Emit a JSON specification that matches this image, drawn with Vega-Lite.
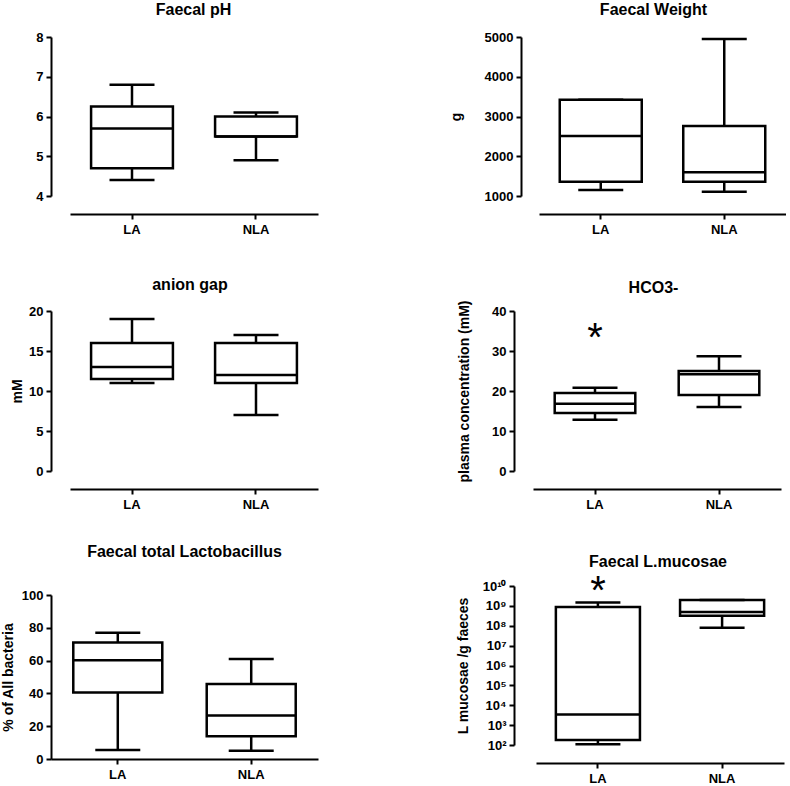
{
  "$schema": "https://vega.github.io/schema/vega-lite/v6.json",
  "background": "white",
  "padding": {"left": 1, "top": 2, "right": 0, "bottom": 0},
  "datasets": {
    "boxes": [
      {"panel": "pH", "group": "LA", "min": 4.4, "q1": 4.7, "median": 5.7, "q3": 6.25, "max": 6.8},
      {"panel": "pH", "group": "NLA", "min": 4.9, "q1": 5.5, "median": 5.5, "q3": 6.0, "max": 6.1},
      {"panel": "weight", "group": "LA", "min": 1150, "q1": 1360, "median": 2510, "q3": 3420, "max": 3420},
      {"panel": "weight", "group": "NLA", "min": 1110, "q1": 1360, "median": 1600, "q3": 2760, "max": 4950},
      {"panel": "anion", "group": "LA", "min": 11, "q1": 11.5, "median": 13, "q3": 16, "max": 19},
      {"panel": "anion", "group": "NLA", "min": 7, "q1": 11, "median": 12, "q3": 16, "max": 17},
      {"panel": "hco3", "group": "LA", "min": 12.8, "q1": 14.5, "median": 16.8, "q3": 19.5, "max": 20.8},
      {"panel": "hco3", "group": "NLA", "min": 16, "q1": 19, "median": 24.2, "q3": 25, "max": 28.7},
      {"panel": "lacto", "group": "LA", "min": 5.5, "q1": 40.6, "median": 60.2, "q3": 71, "max": 77},
      {"panel": "lacto", "group": "NLA", "min": 5, "q1": 13.8, "median": 26.6, "q3": 45.8, "max": 61},
      {"panel": "muc", "group": "LA", "min": 110, "q1": 180, "median": 3400, "q3": 870000000, "max": 1500000000},
      {"panel": "muc", "group": "NLA", "min": 79000000, "q1": 320000000, "median": 490000000, "q3": 2000000000, "max": 2000000000}
    ],
    "stars": [
      {"panel": "hco3", "group": "LA", "value": 35, "label": "*"},
      {"panel": "muc", "group": "LA", "value": 12000000000, "label": "*"}
    ]
  },
  "config": {
    "view": {"stroke": null},
    "axis": {
      "labelFont": "Liberation Sans", "labelFontWeight": "bold", "labelFontSize": 13, "labelColor": "black",
      "titleFont": "Liberation Sans", "titleFontWeight": "bold", "titleFontSize": 14, "titleColor": "black",
      "domainColor": "black", "domainWidth": 2, "tickColor": "black", "tickWidth": 2, "tickSize": 5,
      "grid": false, "labelPadding": 3, "labelFlush": false, "labelOverlap": false
    },
    "axisX": {"labelAngle": 0, "labelPadding": 4},
    "title": {"font": "Liberation Sans", "fontSize": 16, "fontWeight": "bold", "color": "black", "anchor": "middle", "frame": "group"}
  },
  "columns": 2,
  "spacing": {"row": 115, "column": 203},
  "bounds": "flush",
  "concat": [
    {
      "width": 267, "height": 159,
      "title": {"text": "Faecal pH", "dx": 9, "offset": 13},
      "data": {"name": "boxes"},
      "transform": [{"filter": "datum.panel === 'pH'"}],
      "encoding": {"x": {"field": "group", "type": "nominal", "sort": ["LA", "NLA"], "title": null, "scale": {"range": [19, 267], "paddingInner": 0.34, "paddingOuter": 0.17}, "axis": {"offset": 18}}},
      "layer": [
        {"mark": {"type": "rule", "color": "black", "strokeWidth": 2.5}, "encoding": {"y": {"field": "min", "type": "quantitative", "title": null, "scale": {"domain": [4, 8], "nice": false, "zero": false}, "axis": {"values": [4, 5, 6, 7, 8], "format": "d", "labelOverlap": false}}, "y2": {"field": "max"}}},
        {"mark": {"type": "bar", "fill": "white", "stroke": "black", "strokeWidth": 2.5}, "encoding": {"y": {"field": "q1", "type": "quantitative", "title": null, "axis": {"values": [4, 5, 6, 7, 8], "format": "d", "labelOverlap": false}}, "y2": {"field": "q3"}}},
        {"mark": {"type": "bar", "fill": "white", "fillOpacity": 0, "stroke": "black", "strokeWidth": 2.5}, "encoding": {"y": {"field": "median", "type": "quantitative", "title": null, "axis": {"values": [4, 5, 6, 7, 8], "format": "d", "labelOverlap": false}}, "y2": {"field": "median"}}},
        {"mark": {"type": "tick", "color": "black", "opacity": 1, "thickness": 2.5, "size": 45}, "encoding": {"y": {"field": "min", "type": "quantitative", "title": null, "axis": {"values": [4, 5, 6, 7, 8], "format": "d", "labelOverlap": false}}}},
        {"mark": {"type": "tick", "color": "black", "opacity": 1, "thickness": 2.5, "size": 45}, "encoding": {"y": {"field": "max", "type": "quantitative", "title": null, "axis": {"values": [4, 5, 6, 7, 8], "format": "d", "labelOverlap": false}}}}
      ]
    },
    {
      "width": 265, "height": 159,
      "title": {"text": "Faecal Weight", "offset": 13},
      "data": {"name": "boxes"},
      "transform": [{"filter": "datum.panel === 'weight'"}],
      "encoding": {"x": {"field": "group", "type": "nominal", "sort": ["LA", "NLA"], "title": null, "scale": {"range": [18, 265], "paddingInner": 0.336, "paddingOuter": 0.168}, "axis": {"offset": 18}}},
      "layer": [
        {"mark": {"type": "rule", "color": "black", "strokeWidth": 2.5}, "encoding": {"y": {"field": "min", "type": "quantitative", "title": "g", "scale": {"domain": [1000, 5000], "nice": false, "zero": false}, "axis": {"values": [1000, 2000, 3000, 4000, 5000], "format": "d", "labelOverlap": false, "titlePadding": 21}}, "y2": {"field": "max"}}},
        {"mark": {"type": "bar", "fill": "white", "stroke": "black", "strokeWidth": 2.5}, "encoding": {"y": {"field": "q1", "type": "quantitative", "title": "g", "axis": {"values": [1000, 2000, 3000, 4000, 5000], "format": "d", "labelOverlap": false, "titlePadding": 21}}, "y2": {"field": "q3"}}},
        {"mark": {"type": "bar", "fill": "white", "fillOpacity": 0, "stroke": "black", "strokeWidth": 2.5}, "encoding": {"y": {"field": "median", "type": "quantitative", "title": "g", "axis": {"values": [1000, 2000, 3000, 4000, 5000], "format": "d", "labelOverlap": false, "titlePadding": 21}}, "y2": {"field": "median"}}},
        {"mark": {"type": "tick", "color": "black", "opacity": 1, "thickness": 2.5, "size": 45}, "encoding": {"y": {"field": "min", "type": "quantitative", "title": "g", "axis": {"values": [1000, 2000, 3000, 4000, 5000], "format": "d", "labelOverlap": false, "titlePadding": 21}}}},
        {"mark": {"type": "tick", "color": "black", "opacity": 1, "thickness": 2.5, "size": 45}, "encoding": {"y": {"field": "max", "type": "quantitative", "title": "g", "axis": {"values": [1000, 2000, 3000, 4000, 5000], "format": "d", "labelOverlap": false, "titlePadding": 21}}}}
      ]
    },
    {
      "width": 267, "height": 160,
      "title": {"text": "anion gap", "dx": 5.5, "offset": 12},
      "data": {"name": "boxes"},
      "transform": [{"filter": "datum.panel === 'anion'"}],
      "encoding": {"x": {"field": "group", "type": "nominal", "sort": ["LA", "NLA"], "title": null, "scale": {"range": [19, 267], "paddingInner": 0.34, "paddingOuter": 0.17}, "axis": {"offset": 18}}},
      "layer": [
        {"mark": {"type": "rule", "color": "black", "strokeWidth": 2.5}, "encoding": {"y": {"field": "min", "type": "quantitative", "title": "mM", "scale": {"domain": [0, 20], "nice": false}, "axis": {"values": [0, 5, 10, 15, 20], "format": "d", "labelOverlap": false, "titlePadding": 4.5}}, "y2": {"field": "max"}}},
        {"mark": {"type": "bar", "fill": "white", "stroke": "black", "strokeWidth": 2.5}, "encoding": {"y": {"field": "q1", "type": "quantitative", "title": "mM", "axis": {"values": [0, 5, 10, 15, 20], "format": "d", "labelOverlap": false, "titlePadding": 4.5}}, "y2": {"field": "q3"}}},
        {"mark": {"type": "bar", "fill": "white", "fillOpacity": 0, "stroke": "black", "strokeWidth": 2.5}, "encoding": {"y": {"field": "median", "type": "quantitative", "title": "mM", "axis": {"values": [0, 5, 10, 15, 20], "format": "d", "labelOverlap": false, "titlePadding": 4.5}}, "y2": {"field": "median"}}},
        {"mark": {"type": "tick", "color": "black", "opacity": 1, "thickness": 2.5, "size": 45}, "encoding": {"y": {"field": "min", "type": "quantitative", "title": "mM", "axis": {"values": [0, 5, 10, 15, 20], "format": "d", "labelOverlap": false, "titlePadding": 4.5}}}},
        {"mark": {"type": "tick", "color": "black", "opacity": 1, "thickness": 2.5, "size": 45}, "encoding": {"y": {"field": "max", "type": "quantitative", "title": "mM", "axis": {"values": [0, 5, 10, 15, 20], "format": "d", "labelOverlap": false, "titlePadding": 4.5}}}}
      ]
    },
    {
      "width": 265, "height": 160,
      "title": {"text": "HCO3-", "offset": 4},
      "encoding": {"x": {"field": "group", "type": "nominal", "sort": ["LA", "NLA"], "title": null, "scale": {"range": [12, 260], "paddingInner": 0.35, "paddingOuter": 0.175}, "axis": {"offset": 18}}},
      "layer": [
        {"data": {"name": "boxes"}, "transform": [{"filter": "datum.panel === 'hco3'"}], "mark": {"type": "rule", "color": "black", "strokeWidth": 2.5}, "encoding": {"y": {"field": "min", "type": "quantitative", "title": "plasma concentration (mM)", "scale": {"domain": [0, 40], "nice": false}, "axis": {"values": [0, 10, 20, 30, 40], "format": "d", "labelOverlap": false, "titlePadding": 20, "offset": 7}}, "y2": {"field": "max"}}},
        {"data": {"name": "boxes"}, "transform": [{"filter": "datum.panel === 'hco3'"}], "mark": {"type": "bar", "fill": "white", "stroke": "black", "strokeWidth": 2.5}, "encoding": {"y": {"field": "q1", "type": "quantitative", "title": "plasma concentration (mM)", "axis": {"values": [0, 10, 20, 30, 40], "format": "d", "labelOverlap": false, "titlePadding": 20, "offset": 7}}, "y2": {"field": "q3"}}},
        {"data": {"name": "boxes"}, "transform": [{"filter": "datum.panel === 'hco3'"}], "mark": {"type": "bar", "fill": "white", "fillOpacity": 0, "stroke": "black", "strokeWidth": 2.5}, "encoding": {"y": {"field": "median", "type": "quantitative", "title": "plasma concentration (mM)", "axis": {"values": [0, 10, 20, 30, 40], "format": "d", "labelOverlap": false, "titlePadding": 20, "offset": 7}}, "y2": {"field": "median"}}},
        {"data": {"name": "boxes"}, "transform": [{"filter": "datum.panel === 'hco3'"}], "mark": {"type": "tick", "color": "black", "opacity": 1, "thickness": 2.5, "size": 45}, "encoding": {"y": {"field": "min", "type": "quantitative", "title": "plasma concentration (mM)", "axis": {"values": [0, 10, 20, 30, 40], "format": "d", "labelOverlap": false, "titlePadding": 20, "offset": 7}}}},
        {"data": {"name": "boxes"}, "transform": [{"filter": "datum.panel === 'hco3'"}], "mark": {"type": "tick", "color": "black", "opacity": 1, "thickness": 2.5, "size": 45}, "encoding": {"y": {"field": "max", "type": "quantitative", "title": "plasma concentration (mM)", "axis": {"values": [0, 10, 20, 30, 40], "format": "d", "labelOverlap": false, "titlePadding": 20, "offset": 7}}}},
        {"data": {"name": "stars"}, "transform": [{"filter": "datum.panel === 'hco3'"}], "mark": {"type": "text", "font": "Liberation Sans", "fontSize": 40, "color": "black", "baseline": "middle", "dy": 8}, "encoding": {"y": {"field": "value", "type": "quantitative", "title": "plasma concentration (mM)", "axis": {"values": [0, 10, 20, 30, 40], "format": "d", "labelOverlap": false, "titlePadding": 20, "offset": 7}}, "text": {"field": "label"}}}
      ]
    },
    {
      "width": 267, "height": 173,
      "title": {"text": "Faecal total Lactobacillus", "offset": 26},
      "data": {"name": "boxes"},
      "transform": [{"filter": "datum.panel === 'lacto'"}],
      "encoding": {"x": {"field": "group", "type": "nominal", "sort": ["LA", "NLA"], "title": null, "scale": {"paddingInner": 0.333, "paddingOuter": 0.167}, "axis": {"offset": 0}}},
      "layer": [
        {"mark": {"type": "rule", "color": "black", "strokeWidth": 2.5}, "encoding": {"y": {"field": "min", "type": "quantitative", "title": "% of All bacteria", "scale": {"domain": [0, 100], "nice": false, "range": [173, 9]}, "axis": {"values": [0, 20, 40, 60, 80, 100], "format": "d", "labelOverlap": false, "titlePadding": 6}}, "y2": {"field": "max"}}},
        {"mark": {"type": "bar", "fill": "white", "stroke": "black", "strokeWidth": 2.5}, "encoding": {"y": {"field": "q1", "type": "quantitative", "title": "% of All bacteria", "axis": {"values": [0, 20, 40, 60, 80, 100], "format": "d", "labelOverlap": false, "titlePadding": 6}}, "y2": {"field": "q3"}}},
        {"mark": {"type": "bar", "fill": "white", "fillOpacity": 0, "stroke": "black", "strokeWidth": 2.5}, "encoding": {"y": {"field": "median", "type": "quantitative", "title": "% of All bacteria", "axis": {"values": [0, 20, 40, 60, 80, 100], "format": "d", "labelOverlap": false, "titlePadding": 6}}, "y2": {"field": "median"}}},
        {"mark": {"type": "tick", "color": "black", "opacity": 1, "thickness": 2.5, "size": 45}, "encoding": {"y": {"field": "min", "type": "quantitative", "title": "% of All bacteria", "axis": {"values": [0, 20, 40, 60, 80, 100], "format": "d", "labelOverlap": false, "titlePadding": 6}}}},
        {"mark": {"type": "tick", "color": "black", "opacity": 1, "thickness": 2.5, "size": 45}, "encoding": {"y": {"field": "max", "type": "quantitative", "title": "% of All bacteria", "axis": {"values": [0, 20, 40, 60, 80, 100], "format": "d", "labelOverlap": false, "titlePadding": 6}}}}
      ]
    },
    {
      "width": 265, "height": 159,
      "title": {"text": "Faecal L.mucosae", "dx": 4.5, "offset": 2},
      "encoding": {"x": {"field": "group", "type": "nominal", "sort": ["LA", "NLA"], "title": null, "scale": {"range": [15, 263], "paddingInner": 0.323, "paddingOuter": 0.16}, "axis": {"offset": 18}}},
      "layer": [
        {"data": {"name": "boxes"}, "transform": [{"filter": "datum.panel === 'muc'"}], "mark": {"type": "rule", "color": "black", "strokeWidth": 2.5}, "encoding": {"y": {"field": "min", "type": "quantitative", "title": "L mucosae /g faeces", "scale": {"type": "log", "domain": [100, 10000000000], "nice": false}, "axis": {"values": [100, 1000, 10000, 100000, 1000000, 10000000, 100000000, 1000000000, 10000000000], "labelOverlap": false, "titlePadding": 12, "offset": 7, "labelExpr": "'10' + (round(log(datum.value)/LN10) >= 10 ? '¹⁰' : substring('⁰¹²³⁴⁵⁶⁷⁸⁹', round(log(datum.value)/LN10), round(log(datum.value)/LN10) + 1))"}}, "y2": {"field": "max"}}},
        {"data": {"name": "boxes"}, "transform": [{"filter": "datum.panel === 'muc'"}], "mark": {"type": "bar", "fill": "white", "stroke": "black", "strokeWidth": 2.5}, "encoding": {"y": {"field": "q1", "type": "quantitative", "title": "L mucosae /g faeces", "axis": {"values": [100, 1000, 10000, 100000, 1000000, 10000000, 100000000, 1000000000, 10000000000], "labelOverlap": false, "titlePadding": 12, "offset": 7, "labelExpr": "'10' + (round(log(datum.value)/LN10) >= 10 ? '¹⁰' : substring('⁰¹²³⁴⁵⁶⁷⁸⁹', round(log(datum.value)/LN10), round(log(datum.value)/LN10) + 1))"}}, "y2": {"field": "q3"}}},
        {"data": {"name": "boxes"}, "transform": [{"filter": "datum.panel === 'muc'"}], "mark": {"type": "bar", "fill": "white", "fillOpacity": 0, "stroke": "black", "strokeWidth": 2.5}, "encoding": {"y": {"field": "median", "type": "quantitative", "title": "L mucosae /g faeces", "axis": {"values": [100, 1000, 10000, 100000, 1000000, 10000000, 100000000, 1000000000, 10000000000], "labelOverlap": false, "titlePadding": 12, "offset": 7, "labelExpr": "'10' + (round(log(datum.value)/LN10) >= 10 ? '¹⁰' : substring('⁰¹²³⁴⁵⁶⁷⁸⁹', round(log(datum.value)/LN10), round(log(datum.value)/LN10) + 1))"}}, "y2": {"field": "median"}}},
        {"data": {"name": "boxes"}, "transform": [{"filter": "datum.panel === 'muc'"}], "mark": {"type": "tick", "color": "black", "opacity": 1, "thickness": 2.5, "size": 45}, "encoding": {"y": {"field": "min", "type": "quantitative", "title": "L mucosae /g faeces", "axis": {"values": [100, 1000, 10000, 100000, 1000000, 10000000, 100000000, 1000000000, 10000000000], "labelOverlap": false, "titlePadding": 12, "offset": 7, "labelExpr": "'10' + (round(log(datum.value)/LN10) >= 10 ? '¹⁰' : substring('⁰¹²³⁴⁵⁶⁷⁸⁹', round(log(datum.value)/LN10), round(log(datum.value)/LN10) + 1))"}}}},
        {"data": {"name": "boxes"}, "transform": [{"filter": "datum.panel === 'muc'"}], "mark": {"type": "tick", "color": "black", "opacity": 1, "thickness": 2.5, "size": 45}, "encoding": {"y": {"field": "max", "type": "quantitative", "title": "L mucosae /g faeces", "axis": {"values": [100, 1000, 10000, 100000, 1000000, 10000000, 100000000, 1000000000, 10000000000], "labelOverlap": false, "titlePadding": 12, "offset": 7, "labelExpr": "'10' + (round(log(datum.value)/LN10) >= 10 ? '¹⁰' : substring('⁰¹²³⁴⁵⁶⁷⁸⁹', round(log(datum.value)/LN10), round(log(datum.value)/LN10) + 1))"}}}},
        {"data": {"name": "stars"}, "transform": [{"filter": "datum.panel === 'muc'"}], "mark": {"type": "text", "font": "Liberation Sans", "fontSize": 40, "color": "black", "baseline": "middle", "dy": 8}, "encoding": {"y": {"field": "value", "type": "quantitative", "title": "L mucosae /g faeces", "axis": {"values": [100, 1000, 10000, 100000, 1000000, 10000000, 100000000, 1000000000, 10000000000], "labelOverlap": false, "titlePadding": 12, "offset": 7, "labelExpr": "'10' + (round(log(datum.value)/LN10) >= 10 ? '¹⁰' : substring('⁰¹²³⁴⁵⁶⁷⁸⁹', round(log(datum.value)/LN10), round(log(datum.value)/LN10) + 1))"}}, "text": {"field": "label"}}}
      ]
    }
  ]
}
